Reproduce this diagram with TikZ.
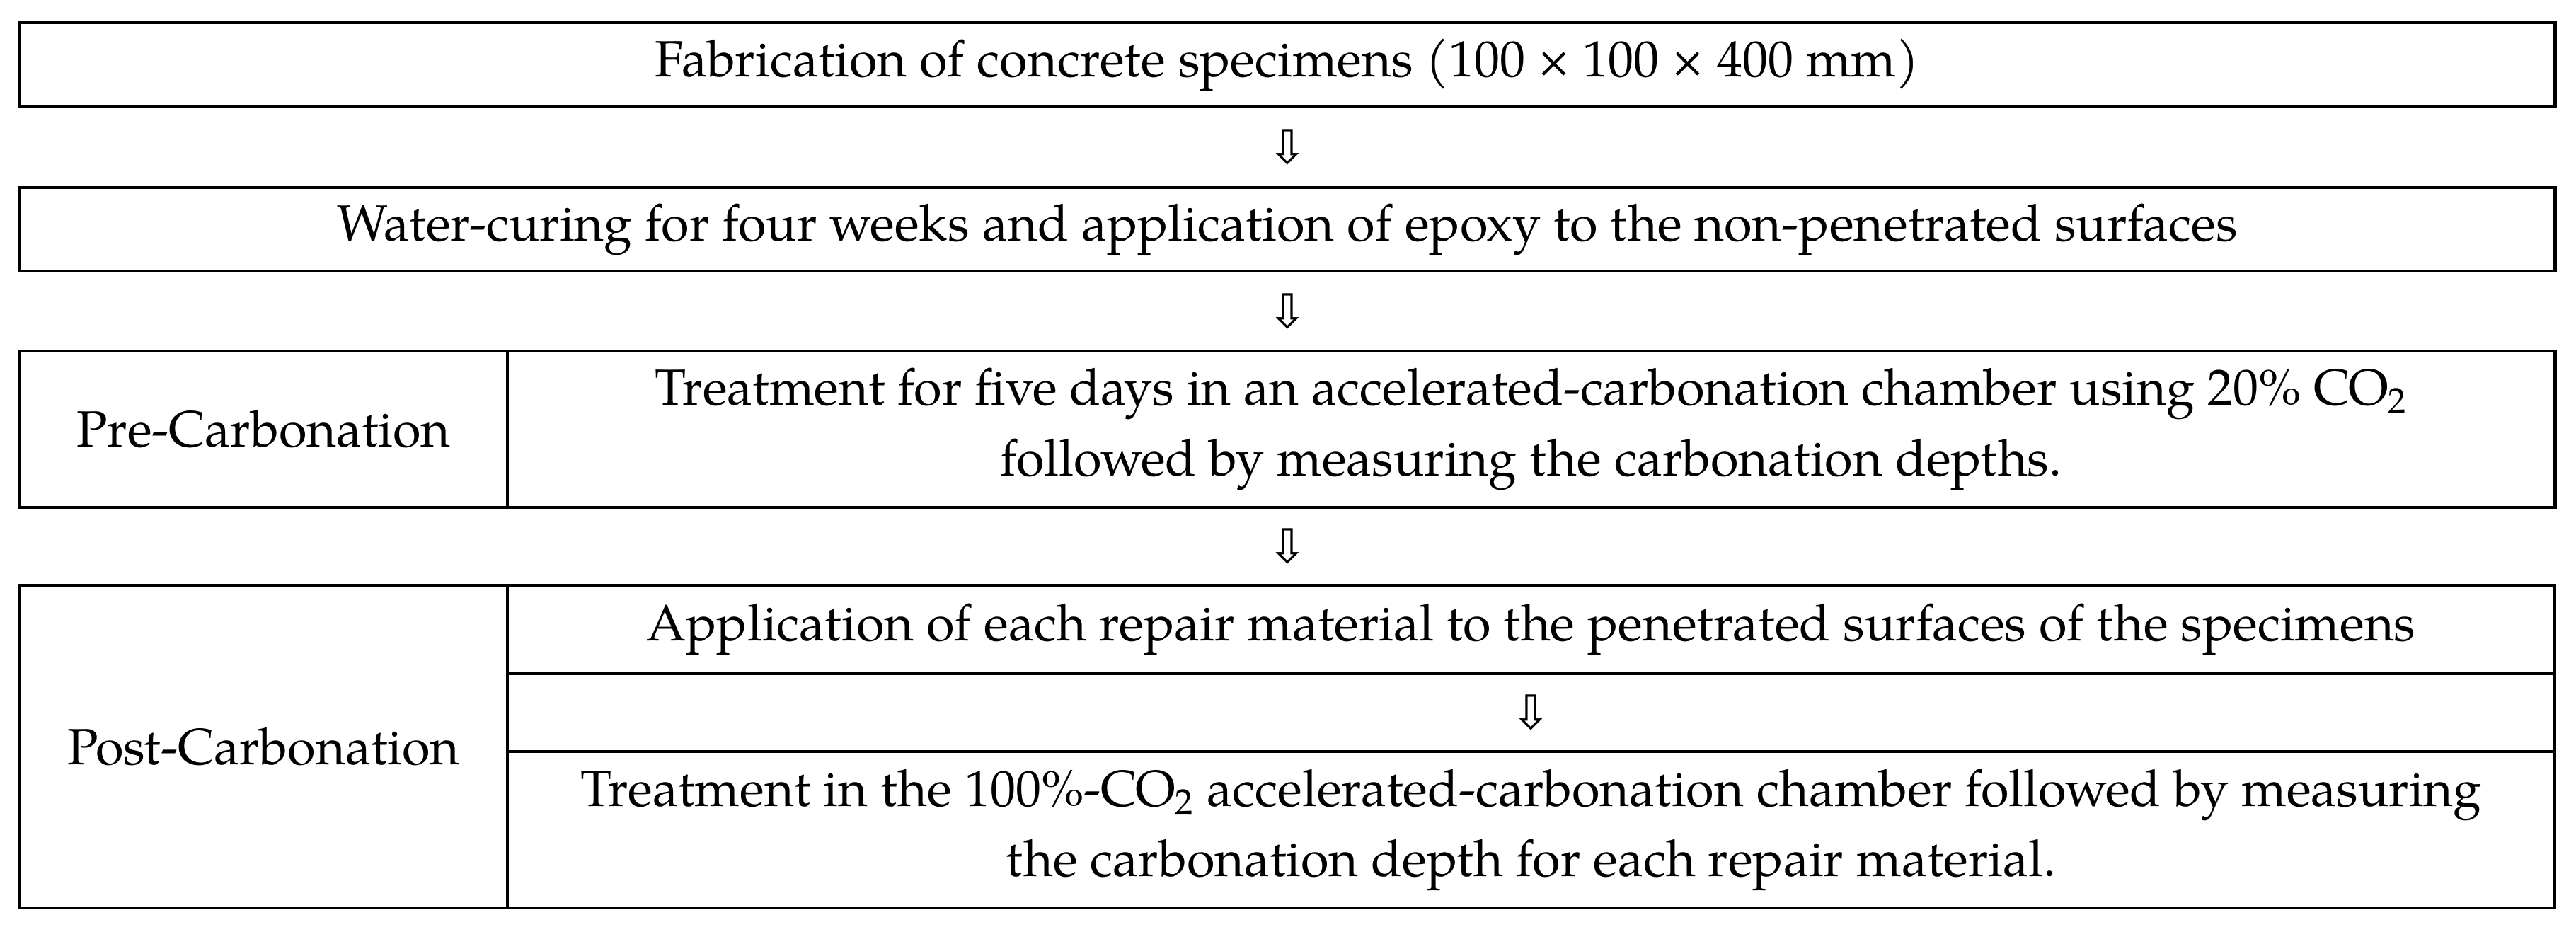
\documentclass[tikz,border=0pt]{standalone}
\usepackage{fontspec}
\setmainfont{TeX Gyre Pagella}
\newfontfamily\setafonte{DejaVu Sans}
\usepackage{tikz}
\usetikzlibrary{positioning, fit}

\begin{document}
\begin{tikzpicture}[
		    every node/.style={rectangle, inner sep=0pt, outer sep=0pt, align=center,
		      font=\fontsize{20.5}{28.2}\selectfont},
		    node distance=0pt
		]
		\tikzset{
		    etapa/.style={draw, line width=1.4pt, minimum width=35.82cm},
		    celula/.style={draw, line width=0.9pt},
		    rotulo/.style={celula, minimum width=6.89cm},
		    texto/.style={celula, minimum width=28.93cm},
		    seta/.style={minimum width=2cm, font=\setafonte\fontsize{19}{19}\selectfont},
		    moldura/.style={draw, line width=1.4pt, inner sep=0pt}
		}
		\useasboundingbox (0,0) rectangle (36.40,-13.16);
		\node[etapa, minimum height=1.19cm] (fabric) at (18.19,-0.915)
		  {Fabrication of concrete specimens (100 × 100 × 400 mm)};
		\node[seta, minimum height=1.14cm, below=of fabric] (seta1) {⇩};
		\node[etapa, minimum height=1.18cm, below=of seta1] (cura)
		  {Water-curing for four weeks and application of epoxy to the non-penetrated surfaces};
		\node[seta, minimum height=1.13cm, below=of cura] (seta2) {⇩};
		\node[rotulo, minimum height=2.21cm, anchor=north west] (pre) at (seta2.south -| fabric.west)
		  {Pre-Carbonation};
		\node[texto, minimum height=2.21cm, right=of pre] (trat1)
		  {Treatment for five days in an accelerated-carbonation chamber using 20\% CO\textsubscript{2}\\
		   followed by measuring the carbonation depths.};
		\node[moldura, fit=(pre)(trat1)] (bloco3) {};
		\node[seta, minimum height=1.10cm, anchor=north] (seta3) at (pre.south -| fabric.south) {⇩};
		\node[rotulo, minimum height=4.56cm, anchor=north west] (pos) at (seta3.south -| fabric.west)
		  {Post-Carbonation};
		\node[texto, minimum height=1.25cm, anchor=north west] (aplic) at (pos.north east)
		  {Application of each repair material to the penetrated surfaces of the specimens};
		\node[texto, minimum height=1.10cm, below=of aplic] (seta4)
		  {\setafonte\fontsize{19}{19}\selectfont ⇩};
		\node[texto, minimum height=2.21cm, below=of seta4] (trat2)
		  {Treatment in the 100\%-CO\textsubscript{2} accelerated-carbonation chamber followed by measuring\\
		   the carbonation depth for each repair material.};
		\draw[line width=1.4pt] (aplic.south west) -- (aplic.south east);
		\end{tikzpicture}
\end{document}
